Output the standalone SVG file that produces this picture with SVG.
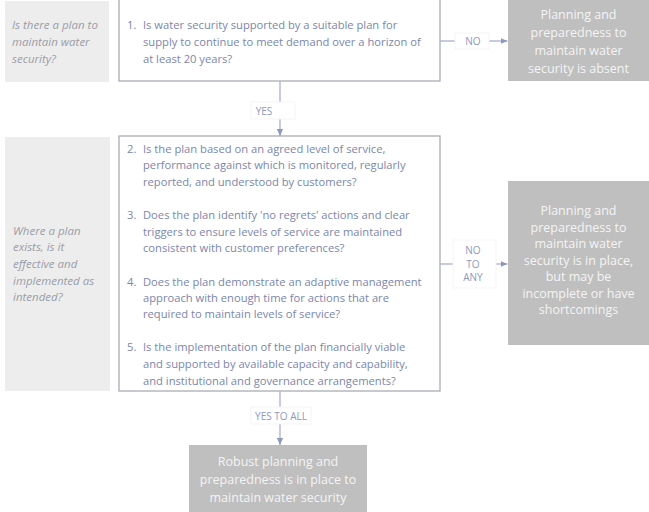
<svg xmlns="http://www.w3.org/2000/svg" width="649" height="512" viewBox="0 0 649 512">
<defs>
<style>
.lbl{fill:#ededed}
.lt{font-family:"Open Sans","Noto Sans",sans-serif;font-size:11.5px;font-style:italic;fill:#9a9ea8}
.q{fill:#ffffff;stroke:#a9acb4;stroke-width:1.3}
.qt{font-family:"Open Sans","Noto Sans",sans-serif;font-size:11.2px;fill:#7b86ad}
.out{fill:#bfbfbf}
.ot{font-family:"Open Sans","Noto Sans",sans-serif;font-size:12.5px;fill:#f4f4f4;text-anchor:middle}
.con{stroke:#8d98bd;stroke-width:1;fill:none}
.cl{fill:#ffffff;stroke:#f3f3f5;stroke-width:0.8}
.ct{font-family:"Open Sans","Noto Sans",sans-serif;font-size:10px;fill:#8d98bd;text-anchor:middle}
</style>
<marker id="ah" viewBox="0 0 8 8" refX="8" refY="4" markerWidth="7" markerHeight="7" markerUnits="userSpaceOnUse" orient="auto">
<path d="M0,0.5 L8,4 L0,7.5 Z" fill="#8d98bd"/>
</marker>
</defs>
<rect width="649" height="512" fill="#ffffff"/>

<g id="label1">
<rect class="lbl" x="5" y="1" width="104" height="81"/>
<text class="lt" x="12" y="29">Is there a plan to</text>
<text class="lt" x="12" y="46">maintain water</text>
<text class="lt" x="12" y="63">security?</text>
</g>

<g id="label2">
<rect class="lbl" x="5" y="137" width="105" height="254"/>
<text class="lt" x="13" y="235">Where a plan</text>
<text class="lt" x="13" y="251">exists, is it</text>
<text class="lt" x="13" y="268">effective and</text>
<text class="lt" x="13" y="285">implemented as</text>
<text class="lt" x="13" y="301">intended?</text>
</g>

<g id="q1">
<rect class="q" x="119" y="-2" width="321" height="83"/>
<text class="qt" x="127" y="29">1.</text>
<text class="qt" x="143" y="29">Is water security supported by a suitable plan for</text>
<text class="qt" x="143" y="46">supply to continue to meet demand over a horizon of</text>
<text class="qt" x="143" y="63">at least 20 years?</text>
</g>

<g id="q2">
<rect class="q" x="119" y="136" width="321" height="255"/>
<text class="qt" x="127" y="153">2.</text>
<text class="qt" x="143" y="153">Is the plan based on an agreed level of service,</text>
<text class="qt" x="143" y="169">performance against which is monitored, regularly</text>
<text class="qt" x="143" y="186">reported, and understood by customers?</text>
<text class="qt" x="127" y="219">3.</text>
<text class="qt" x="143" y="219">Does the plan identify 'no regrets' actions and clear</text>
<text class="qt" x="143" y="236">triggers to ensure levels of service are maintained</text>
<text class="qt" x="143" y="252">consistent with customer preferences?</text>
<text class="qt" x="127" y="286">4.</text>
<text class="qt" x="143" y="286">Does the plan demonstrate an adaptive management</text>
<text class="qt" x="143" y="302">approach with enough time for actions that are</text>
<text class="qt" x="143" y="318">required to maintain levels of service?</text>
<text class="qt" x="127" y="351">5.</text>
<text class="qt" x="143" y="351">Is the implementation of the plan financially viable</text>
<text class="qt" x="143" y="368">and supported by available capacity and capability,</text>
<text class="qt" x="143" y="385">and institutional and governance arrangements?</text>
</g>

<g id="out1">
<rect class="out" x="508" y="-1" width="142" height="82"/>
<text class="ot" x="578.5" y="19">Planning and</text>
<text class="ot" x="578.5" y="37">preparedness to</text>
<text class="ot" x="578.5" y="55">maintain water</text>
<text class="ot" x="578.5" y="73">security is absent</text>
</g>

<g id="out2">
<rect class="out" x="508" y="181" width="142" height="164"/>
<text class="ot" x="578.5" y="215">Planning and</text>
<text class="ot" x="578.5" y="232">preparedness to</text>
<text class="ot" x="578.5" y="248">maintain water</text>
<text class="ot" x="578.5" y="265">security is in place,</text>
<text class="ot" x="578.5" y="281">but may be</text>
<text class="ot" x="578.5" y="298">incomplete or have</text>
<text class="ot" x="578.5" y="314">shortcomings</text>
</g>

<g id="out3">
<rect class="out" x="189" y="445" width="178" height="68"/>
<text class="ot" x="278" y="466">Robust planning and</text>
<text class="ot" x="278" y="484">preparedness is in place to</text>
<text class="ot" x="278" y="502">maintain water security</text>
</g>

<g id="connectors">
<line class="con" x1="280" y1="81.5" x2="280" y2="136" marker-end="url(#ah)"/>
<rect class="cl" x="251" y="102" width="44" height="17"/>
<text class="ct" x="264" y="115">YES</text>

<line class="con" x1="440.5" y1="41" x2="507.5" y2="41" marker-end="url(#ah)"/>
<rect class="cl" x="455" y="33" width="34" height="16"/>
<text class="ct" x="473" y="45">NO</text>

<line class="con" x1="440.5" y1="264" x2="507.5" y2="264" marker-end="url(#ah)"/>
<rect class="cl" x="453" y="240" width="43" height="48"/>
<text class="ct" x="473" y="254">NO</text>
<text class="ct" x="473" y="268">TO</text>
<text class="ct" x="473" y="281">ANY</text>

<line class="con" x1="280" y1="391.5" x2="280" y2="445" marker-end="url(#ah)"/>
<rect class="cl" x="251" y="407" width="60" height="17"/>
<text class="ct" x="281" y="420">YES TO ALL</text>
</g>
</svg>
